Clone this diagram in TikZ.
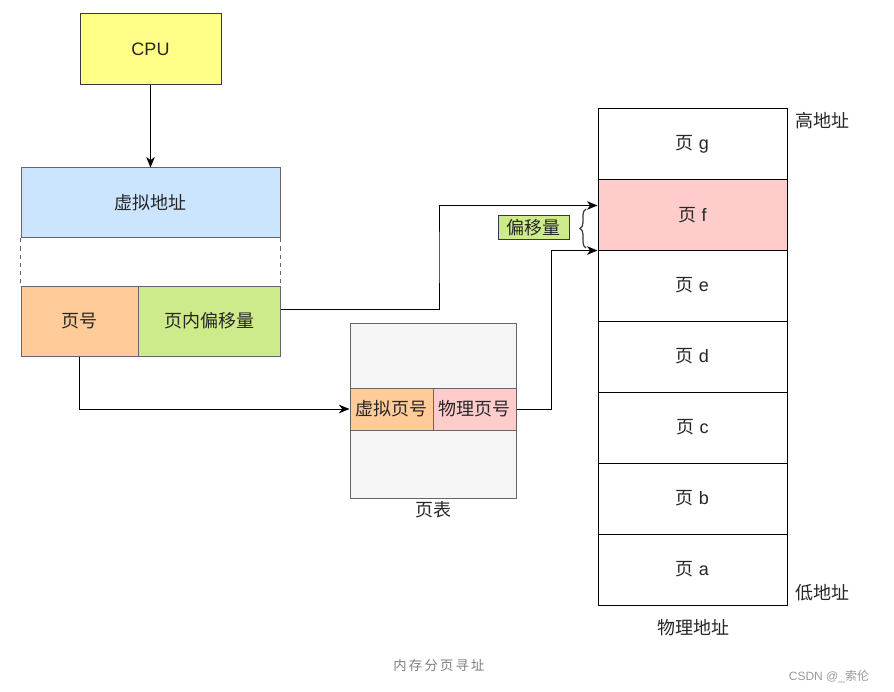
\documentclass[tikz,border=0pt]{standalone}
\usepackage{fontspec}
\setmainfont{Liberation Sans}
\newfontfamily\cjk{Noto Sans CJK SC}
\usetikzlibrary{fit,arrows.meta,decorations.pathreplacing,calc}
\definecolor{cpuyellow}{HTML}{FFFF88}
\definecolor{vablue}{HTML}{CCE5FF}
\definecolor{pnorange}{HTML}{FFCC99}
\definecolor{offgreen}{HTML}{CDEB8B}
\definecolor{pink}{HTML}{FFCCCC}
\definecolor{tablegray}{HTML}{F5F5F5}
\definecolor{edgegray}{HTML}{666666}
\definecolor{darkedge}{HTML}{36393D}
\definecolor{captiongray}{HTML}{808080}
\begin{document}
\begin{tikzpicture}[x=0.75pt,y=-0.75pt,
  font=\fontsize{13.5}{16}\selectfont,
  every label/.style={inner sep=0pt, text=black!85},
  box/.style={draw=edgegray, line width=0.75pt, inner sep=0pt},
  membox/.style={draw=black, line width=0.75pt, inner sep=0pt, fill=white},
  arr/.style={draw=black, line width=0.75pt, -{Stealth[length=8pt,width=6.5pt]}},
  lbl/.style={inner sep=0pt, text=black!85}]
\useasboundingbox[fill=white] (0,0) rectangle (894,692);

% CPU and virtual address
\node[box, draw=darkedge, fill=cpuyellow, fit={(80,14)(221,85)}, label=center:CPU] (cpu) {};
\node[box, fill=vablue, fit={(21,168)(280,238)}, label=center:{\cjk 虚拟地址}] (va) {};
\node[box, fill=pnorange, fit={(21,286)(138,356)}, label=center:{\cjk 页号}] (pn) {};
\node[box, fill=offgreen, fit={(138,286)(280,356)}, label=center:{\cjk 页内偏移量}] (off) {};
\draw[edgegray, line width=0.75pt, dashed] (va.south west) -- (pn.north west);
\draw[edgegray, line width=0.75pt, dashed] (va.south east) -- (off.north east);
\draw[arr] (cpu) -- (va);

% page table
\node[box, fill=tablegray, fit={(350,323)(516,498)}] (tbl) {};
\node[box, fill=pnorange, fit={(350,388)(433,430)}, label=center:{\cjk 虚拟页号}] (vt) {};
\node[box, fill=pink, fit={(433,388)(516,430)}, label=center:{\cjk 物理页号}] (pt) {};
\node[lbl, anchor=north] (tbllbl) at ($(tbl.south)+(0,3)$) {\cjk 页表};

% physical memory
\node[membox, fit={(598,109)(787,180)}, label=center:{{\cjk 页} g}] (pg) {};
\node[membox, fill=pink, fit={(598,180)(787,250)}, label=center:{{\cjk 页} f}] (pf) {};
\node[membox, fit={(598,250)(787,321)}, label=center:{{\cjk 页} e}] (pe) {};
\node[membox, fit={(598,321)(787,392)}, label=center:{{\cjk 页} d}] (pd) {};
\node[membox, fit={(598,392)(787,463)}, label=center:{{\cjk 页} c}] (pc) {};
\node[membox, fit={(598,463)(787,534)}, label=center:{{\cjk 页} b}] (pb) {};
\node[membox, fit={(598,534)(787,605)}, label=center:{{\cjk 页} a}] (pa) {};
\node[lbl] (hi) at (822,121) {\cjk 高地址};
\node[lbl] (lo) at (822,593) {\cjk 低地址};
\node[lbl] (phys) at (693,628) {\cjk 物理地址};

% offset brace and label
\coordinate (t1) at ($(pf.north west)+(0,26)$);
\coordinate (t2) at (pf.south west);
\draw[darkedge, line width=0.9pt, decorate, decoration={brace, amplitude=4.5pt}] (586,248) -- (586,209);
\node[box, draw=darkedge, fill=offgreen, fit={(498,216)(569,240)}, label=center:{\cjk 偏移量}] (offlbl) {};

% connectors
\coordinate (a1) at ($(off.east)+(0,-12)$);
\coordinate (m1) at ($(a1)!0.5!(t1)$);
\draw[arr] (a1) -| (m1) |- (t1);
\draw[arr] (pn.south) |- (vt.west);
\draw[arr] (pt.east) -- ++(35,0) |- (t2);

% captions
\node[inner sep=0pt, text=captiongray, font=\fontsize{10}{12}\selectfont] (cap) at (439,665) {\cjk 内\,存\,分\,页\,寻\,址};
\node[inner sep=0pt, text=captiongray!80, font=\fontsize{9}{11}\selectfont] (csdn) at (829,677) {CSDN @\_{\cjk 索伦}};
\end{tikzpicture}
\end{document}
